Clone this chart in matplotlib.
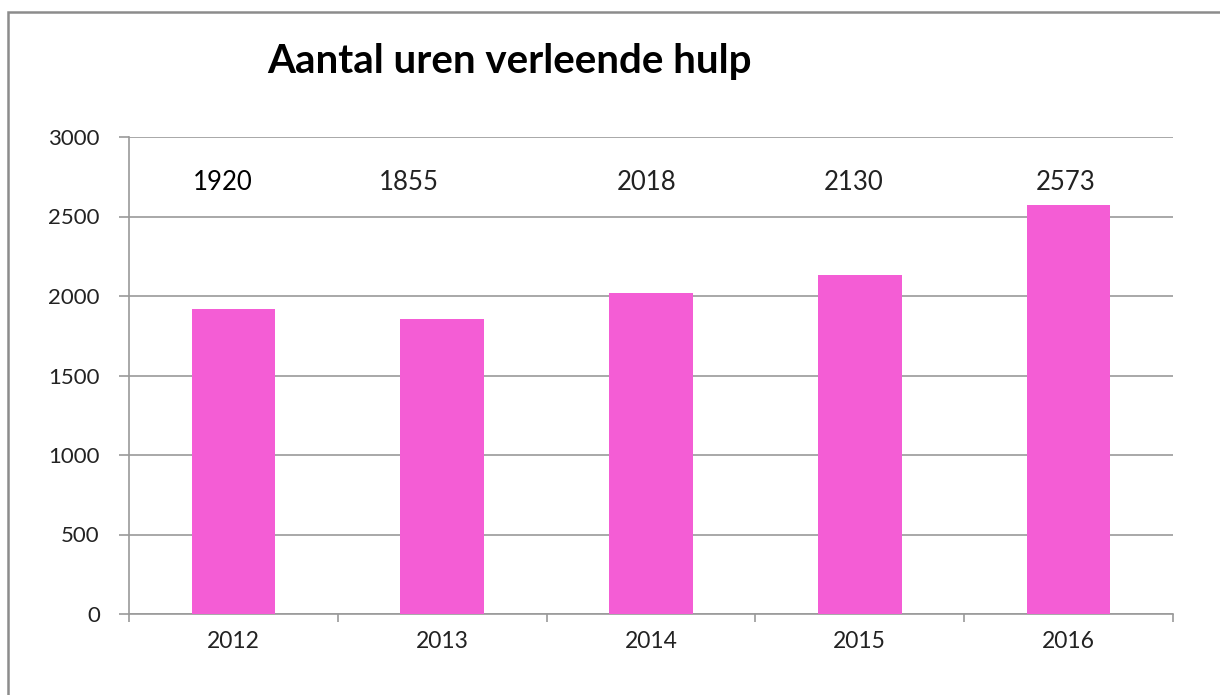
import matplotlib
matplotlib.use("Agg")
import matplotlib.pyplot as plt
from matplotlib.patches import Rectangle
from matplotlib.ticker import FixedLocator

years = ["2012", "2013", "2014", "2015", "2016"]
hours = [1920, 1855, 2018, 2130, 2573]
yticks = [0, 500, 1000, 1500, 2000, 2500, 3000]
title = "Aantal uren verleende hulp"

# manual label nudges (category units), as placed in the original chart
label_shift = [-0.05, -0.16, -0.02, -0.03, -0.015]
label_color = ['#000000', '#222222', '#222222', '#222222', '#222222']

plt.rcParams['font.family'] = ['Lato', 'DejaVu Sans']

W, H = 1220, 695
fig = plt.figure(figsize=(W / 100, H / 100), dpi=100)

# outer border (cropped on right and bottom)
fig.patches.append(Rectangle((8 / W, -0.1), 1.2, (H - 12) / H + 0.1,
                             transform=fig.transFigure, fill=False,
                             edgecolor='#8c8c8c', linewidth=1.8))

left, right, top, bottom = 129, 1173, 137, 614
ax = fig.add_axes([left / W, 1 - bottom / H, (right - left) / W, (bottom - top) / H])

x = list(range(len(years)))
ax.bar(x, hours, width=0.4, color='#F45DD5', zorder=3)
ax.set_xlim(-0.5, len(years) - 0.5)
ax.set_ylim(0, 3000)
ax.set_yticks(yticks)
ax.set_yticklabels([str(v) for v in yticks], fontsize=16, color='#222222')
ax.set_xticks(x)
ax.set_xticklabels(years, fontsize=16.5, color='#222222')
ax.xaxis.set_minor_locator(FixedLocator([i - 0.5 for i in range(len(years) + 1)]))
ax.tick_params(axis='x', which='major', length=0, pad=12)
ax.tick_params(axis='x', which='minor', length=6, color='#9a9a9a', width=1.2)
ax.tick_params(axis='y', length=7, color='#9a9a9a', width=1.2, pad=14)
ax.grid(axis='y', color='#9a9a9a', linewidth=1.2, zorder=0)
for s in ['top', 'right']:
    ax.spines[s].set_visible(False)
for s in ['left', 'bottom']:
    ax.spines[s].set_color('#9a9a9a')
    ax.spines[s].set_linewidth(1.2)

for xi, v, dx, c in zip(x, hours, label_shift, label_color):
    ax.text(xi + dx, 2715, str(v), ha='center', va='center', fontsize=18.5, color=c)

fig.text(509 / W, 1 - 62 / H, title, ha='center', va='center',
         fontsize=29, fontweight='bold', color='black')

fig.savefig('out.png', dpi=100)
